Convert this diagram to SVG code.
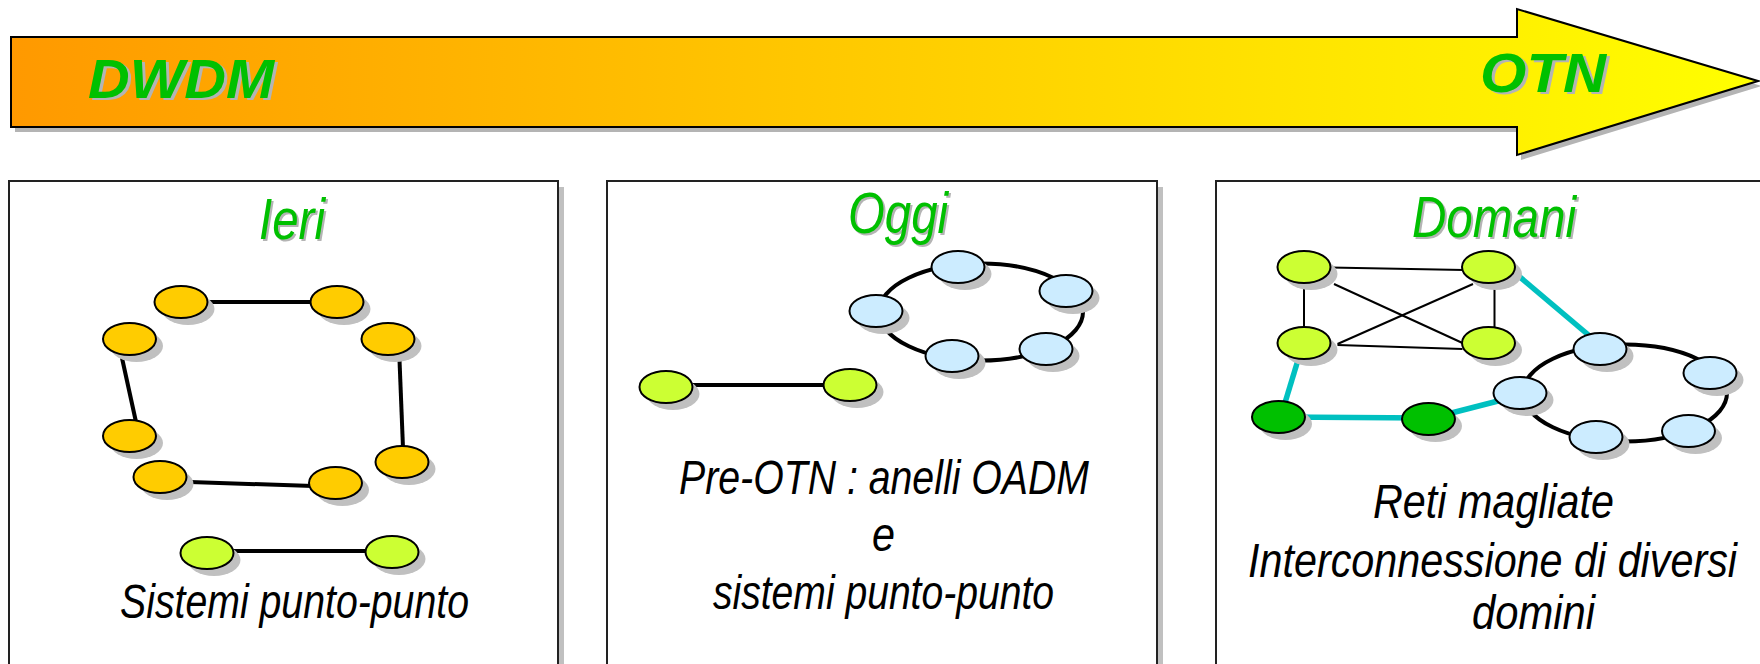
<svg xmlns="http://www.w3.org/2000/svg" width="1760" height="664" viewBox="0 0 1760 664">
<style>
.t{font-family:"Liberation Sans",Arial,sans-serif;font-style:italic}
.big{font-size:56px;font-weight:bold}
.title{font-size:57px}
.cap{font-size:48px;fill:#000}
.green{fill:#00C000}
.tsh{fill:#B4B4B4}
.sh{fill:#C0C0C0}
.n{stroke:#000;stroke-width:2}
.or{fill:#FFCC00}
.lg{fill:#CCFF33}
.dg{fill:#00C000}
.bl{fill:#CCECFF}
.panel{fill:#fff;stroke:#222;stroke-width:2}
.thick{stroke:#000;stroke-width:4;fill:none}
.thin{stroke:#000;stroke-width:2;fill:none}
.cyan{stroke:#00C0C0;stroke-width:5.5;fill:none}
</style>
<defs>
<linearGradient id="grad" x1="11" y1="0" x2="1758" y2="0" gradientUnits="userSpaceOnUse">
<stop offset="0" stop-color="#FF9900"/>
<stop offset="1" stop-color="#FFFF00"/>
</linearGradient>
</defs>
<rect width="1760" height="664" fill="#fff"/>

<g id="arrow">
<polygon points="15,42 1521,42 1521,14 1762,86 1521,160 1521,132 15,132" fill="#B4B4B4"/>
<polygon points="11,37 1517,37 1517,9 1758,81 1517,155 1517,127 11,127" fill="url(#grad)" stroke="#000" stroke-width="2"/>
<text class="t big tsh" x="91" y="100" textLength="186" lengthAdjust="spacingAndGlyphs">DWDM</text>
<text class="t big green" x="88" y="98" textLength="186" lengthAdjust="spacingAndGlyphs">DWDM</text>
<text class="t big tsh" x="1483" y="94" textLength="126" lengthAdjust="spacingAndGlyphs">OTN</text>
<text class="t big green" x="1480" y="92" textLength="126" lengthAdjust="spacingAndGlyphs">OTN</text>
</g>

<g id="panel-ieri">
<rect x="15" y="187" width="549" height="500" fill="#C0C0C0"/>
<rect class="panel" x="9" y="181" width="549" height="500"/>
<text class="t title tsh" x="261" y="241" textLength="66" lengthAdjust="spacingAndGlyphs">Ieri</text>
<text class="t title green" x="259" y="239" textLength="66" lengthAdjust="spacingAndGlyphs">Ieri</text>
<text class="t cap" x="120" y="618" textLength="349" lengthAdjust="spacingAndGlyphs">Sistemi punto-punto</text>
</g>
<g id="panel-oggi">
<rect x="613" y="187" width="550" height="500" fill="#C0C0C0"/>
<rect class="panel" x="607" y="181" width="550" height="500"/>
<text class="t title tsh" x="850" y="235" textLength="100" lengthAdjust="spacingAndGlyphs">Oggi</text>
<text class="t title green" x="848" y="233" textLength="100" lengthAdjust="spacingAndGlyphs">Oggi</text>
<text class="t cap" x="679" y="494" textLength="410" lengthAdjust="spacingAndGlyphs">Pre-OTN : anelli OADM</text>
<text class="t cap" x="872" y="551" textLength="23" lengthAdjust="spacingAndGlyphs">e</text>
<text class="t cap" x="713" y="609" textLength="341" lengthAdjust="spacingAndGlyphs">sistemi punto-punto</text>
</g>
<g id="panel-domani">
<rect x="1222" y="187" width="550" height="500" fill="#C0C0C0"/>
<rect class="panel" x="1216" y="181" width="550" height="500"/>
<text class="t title tsh" x="1414" y="239" textLength="164" lengthAdjust="spacingAndGlyphs">Domani</text>
<text class="t title green" x="1412" y="237" textLength="164" lengthAdjust="spacingAndGlyphs">Domani</text>
<text class="t cap" x="1373" y="518" textLength="241" lengthAdjust="spacingAndGlyphs">Reti magliate</text>
<text class="t cap" x="1248" y="577" textLength="489" lengthAdjust="spacingAndGlyphs">Interconnessione di diversi</text>
<text class="t cap" x="1472" y="629" textLength="123" lengthAdjust="spacingAndGlyphs">domini</text>
</g>

<g id="connectors">
<line class="thick" x1="181" y1="302" x2="337" y2="302"/>
<line class="thick" x1="122" y1="358" x2="136" y2="422"/>
<line class="thick" x1="399.5" y1="360" x2="403" y2="448"/>
<line class="thick" x1="190" y1="482" x2="313" y2="486"/>
<line class="thick" x1="207" y1="551" x2="392" y2="551"/>
<ellipse class="thick" cx="981" cy="312" rx="102" ry="48.5" stroke-width="4.5"/>
<line class="thick" x1="666" y1="385" x2="850" y2="385"/>
<line class="thin" x1="1330" y1="267.5" x2="1464" y2="270"/>
<line class="thin" x1="1304" y1="270" x2="1304" y2="340"/>
<line class="thin" x1="1494.5" y1="275" x2="1494.5" y2="335"/>
<line class="thin" x1="1334" y1="284" x2="1462.5" y2="343"/>
<line class="thin" x1="1473" y1="284" x2="1337.5" y2="344"/>
<line class="thin" x1="1337.5" y1="345" x2="1462.5" y2="349"/>
<ellipse class="thick" cx="1625" cy="393" rx="102" ry="48.5" stroke-width="4.5"/>
<line class="cyan" x1="1508" y1="267" x2="1592" y2="338"/>
<line class="cyan" x1="1298" y1="360" x2="1284" y2="406"/>
<line class="cyan" x1="1278" y1="417" x2="1428" y2="418"/>
<line class="cyan" x1="1428" y1="419" x2="1502" y2="400"/>
</g>

<g id="ieri-n1" transform="translate(181,302)"><ellipse class="sh" cx="7" cy="7" rx="26.5" ry="16"/><ellipse class="n or" rx="26.5" ry="16"/></g>
<g id="ieri-n2" transform="translate(337,302)"><ellipse class="sh" cx="7" cy="7" rx="26.5" ry="16"/><ellipse class="n or" rx="26.5" ry="16"/></g>
<g id="ieri-n3" transform="translate(129.5,339)"><ellipse class="sh" cx="7" cy="7" rx="26.5" ry="16"/><ellipse class="n or" rx="26.5" ry="16"/></g>
<g id="ieri-n4" transform="translate(388,339)"><ellipse class="sh" cx="7" cy="7" rx="26.5" ry="16"/><ellipse class="n or" rx="26.5" ry="16"/></g>
<g id="ieri-n5" transform="translate(129.5,436)"><ellipse class="sh" cx="7" cy="7" rx="26.5" ry="16"/><ellipse class="n or" rx="26.5" ry="16"/></g>
<g id="ieri-n6" transform="translate(402,462)"><ellipse class="sh" cx="7" cy="7" rx="26.5" ry="16"/><ellipse class="n or" rx="26.5" ry="16"/></g>
<g id="ieri-n7" transform="translate(160,477)"><ellipse class="sh" cx="7" cy="7" rx="26.5" ry="16"/><ellipse class="n or" rx="26.5" ry="16"/></g>
<g id="ieri-n8" transform="translate(335.5,483)"><ellipse class="sh" cx="7" cy="7" rx="26.5" ry="16"/><ellipse class="n or" rx="26.5" ry="16"/></g>
<g id="ieri-p1" transform="translate(207,553)"><ellipse class="sh" cx="7" cy="7" rx="26.5" ry="16"/><ellipse class="n lg" rx="26.5" ry="16"/></g>
<g id="ieri-p2" transform="translate(392,552)"><ellipse class="sh" cx="7" cy="7" rx="26.5" ry="16"/><ellipse class="n lg" rx="26.5" ry="16"/></g>

<g id="oggi-b1" transform="translate(958,267)"><ellipse class="sh" cx="7" cy="7" rx="26.5" ry="16"/><ellipse class="n bl" rx="26.5" ry="16"/></g>
<g id="oggi-b2" transform="translate(1066,291)"><ellipse class="sh" cx="7" cy="7" rx="26.5" ry="16"/><ellipse class="n bl" rx="26.5" ry="16"/></g>
<g id="oggi-b3" transform="translate(876,311)"><ellipse class="sh" cx="7" cy="7" rx="26.5" ry="16"/><ellipse class="n bl" rx="26.5" ry="16"/></g>
<g id="oggi-b4" transform="translate(952,356)"><ellipse class="sh" cx="7" cy="7" rx="26.5" ry="16"/><ellipse class="n bl" rx="26.5" ry="16"/></g>
<g id="oggi-b5" transform="translate(1046,349)"><ellipse class="sh" cx="7" cy="7" rx="26.5" ry="16"/><ellipse class="n bl" rx="26.5" ry="16"/></g>
<g id="oggi-p1" transform="translate(666,387)"><ellipse class="sh" cx="7" cy="7" rx="26.5" ry="16"/><ellipse class="n lg" rx="26.5" ry="16"/></g>
<g id="oggi-p2" transform="translate(850,385)"><ellipse class="sh" cx="7" cy="7" rx="26.5" ry="16"/><ellipse class="n lg" rx="26.5" ry="16"/></g>

<g id="domani-g1" transform="translate(1304,267)"><ellipse class="sh" cx="7" cy="7" rx="26.5" ry="16"/><ellipse class="n lg" rx="26.5" ry="16"/></g>
<g id="domani-g2" transform="translate(1488.5,267)"><ellipse class="sh" cx="7" cy="7" rx="26.5" ry="16"/><ellipse class="n lg" rx="26.5" ry="16"/></g>
<g id="domani-g3" transform="translate(1304,343)"><ellipse class="sh" cx="7" cy="7" rx="26.5" ry="16"/><ellipse class="n lg" rx="26.5" ry="16"/></g>
<g id="domani-g4" transform="translate(1488.5,343)"><ellipse class="sh" cx="7" cy="7" rx="26.5" ry="16"/><ellipse class="n lg" rx="26.5" ry="16"/></g>
<g id="domani-d1" transform="translate(1278.5,417)"><ellipse class="sh" cx="7" cy="7" rx="26.5" ry="16"/><ellipse class="n dg" rx="26.5" ry="16"/></g>
<g id="domani-d2" transform="translate(1428.5,419)"><ellipse class="sh" cx="7" cy="7" rx="26.5" ry="16"/><ellipse class="n dg" rx="26.5" ry="16"/></g>
<g id="domani-c1" transform="translate(1600,349)"><ellipse class="sh" cx="7" cy="7" rx="26.5" ry="16"/><ellipse class="n bl" rx="26.5" ry="16"/></g>
<g id="domani-c2" transform="translate(1710,373)"><ellipse class="sh" cx="7" cy="7" rx="26.5" ry="16"/><ellipse class="n bl" rx="26.5" ry="16"/></g>
<g id="domani-c3" transform="translate(1520,393)"><ellipse class="sh" cx="7" cy="7" rx="26.5" ry="16"/><ellipse class="n bl" rx="26.5" ry="16"/></g>
<g id="domani-c4" transform="translate(1596,437)"><ellipse class="sh" cx="7" cy="7" rx="26.5" ry="16"/><ellipse class="n bl" rx="26.5" ry="16"/></g>
<g id="domani-c5" transform="translate(1688.5,431)"><ellipse class="sh" cx="7" cy="7" rx="26.5" ry="16"/><ellipse class="n bl" rx="26.5" ry="16"/></g>
</svg>
